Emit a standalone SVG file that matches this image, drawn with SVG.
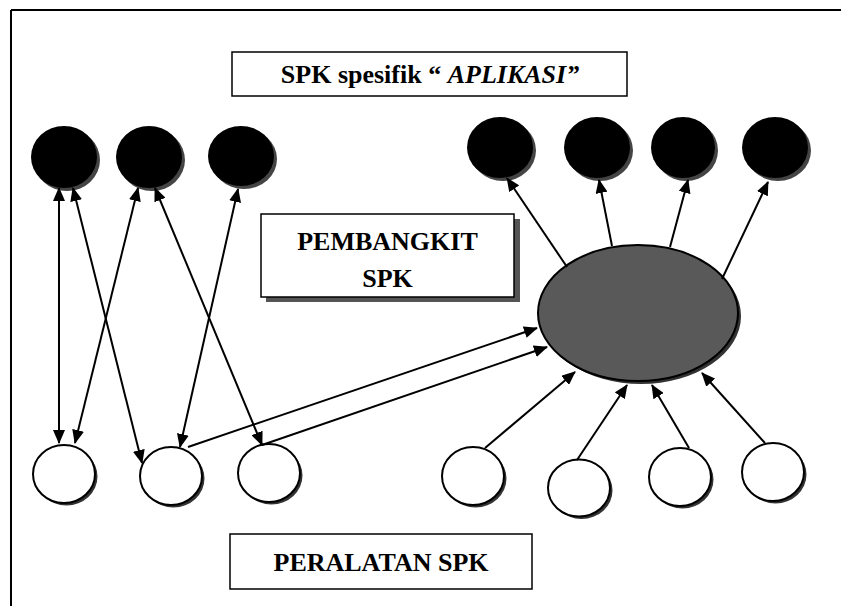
<svg xmlns="http://www.w3.org/2000/svg" width="841" height="606" viewBox="0 0 841 606">
<style>
.frame{stroke:#000;stroke-width:2;fill:none}
.box{fill:#fff;stroke:#000;stroke-width:1.5}
.shadow{fill:#555}
.dark{fill:#000}
.dshadow{fill:#444}
.white{fill:#fff;stroke:#000;stroke-width:2}
.wshadow{fill:#333}
.ell{fill:#595959;stroke:#000;stroke-width:2}
.conn line{stroke:#000;stroke-width:2}
.lbl{font-family:"Liberation Serif","Times New Roman",serif;font-weight:bold;font-size:26px;fill:#000}
</style>
<defs>
<marker id="ah" markerUnits="userSpaceOnUse" markerWidth="14" markerHeight="12" refX="13" refY="6" orient="auto-start-reverse" viewBox="0 0 14 12">
<path d="M0,0 L14,6 L0,12 z" fill="#000"/>
</marker>
</defs>
<rect width="841" height="606" fill="#fff"/>
<g id="frame">
<line class="frame" x1="11" y1="10" x2="841" y2="10"/>
<line class="frame" x1="11" y1="10" x2="11" y2="606"/>
</g>
<g id="title">
<rect class="box" x="232" y="52" width="395" height="44"/>
<text class="lbl" x="430" y="83" text-anchor="middle">SPK spesifik “ <tspan font-style="italic">APLIKASI”</tspan></text>
</g>
<g id="pembangkit">
<rect class="shadow" x="266" y="219" width="254" height="83"/>
<rect class="box" x="261" y="214" width="253" height="83"/>
<text class="lbl" x="387.5" y="250" text-anchor="middle">PEMBANGKIT</text>
<text class="lbl" x="387.5" y="287" text-anchor="middle">SPK</text>
</g>
<g id="peralatan">
<rect class="box" x="230" y="534" width="302" height="55"/>
<text class="lbl" x="381" y="571" text-anchor="middle">PERALATAN SPK</text>
</g>
<g id="tl1"><ellipse class="dshadow" cx="67" cy="160" rx="33" ry="31"/><ellipse class="dark" cx="64" cy="157" rx="33" ry="31"/></g>
<g id="tl2"><ellipse class="dshadow" cx="152" cy="160" rx="33" ry="31"/><ellipse class="dark" cx="149" cy="157" rx="33" ry="31"/></g>
<g id="tl3"><ellipse class="dshadow" cx="244" cy="159" rx="33" ry="30"/><ellipse class="dark" cx="241" cy="156" rx="33" ry="30"/></g>
<g id="tr1"><ellipse class="dshadow" cx="503" cy="150.5" rx="33" ry="30.5"/><ellipse class="dark" cx="500" cy="147.5" rx="33" ry="30.5"/></g>
<g id="tr2"><ellipse class="dshadow" cx="600" cy="150.5" rx="33" ry="30.5"/><ellipse class="dark" cx="597" cy="147.5" rx="33" ry="30.5"/></g>
<g id="tr3"><ellipse class="dshadow" cx="686" cy="150.5" rx="32" ry="30.5"/><ellipse class="dark" cx="683" cy="147.5" rx="32" ry="30.5"/></g>
<g id="tr4"><ellipse class="dshadow" cx="778" cy="150.5" rx="33" ry="30.5"/><ellipse class="dark" cx="775" cy="147.5" rx="33" ry="30.5"/></g>
<g id="generator"><ellipse class="wshadow" cx="641" cy="316" rx="100" ry="68"/><ellipse class="ell" cx="638" cy="313" rx="100" ry="68"/></g>
<g id="bl1"><ellipse class="wshadow" cx="66.5" cy="476.5" rx="31" ry="29"/><ellipse class="white" cx="64" cy="474" rx="31" ry="29"/></g>
<g id="bl2"><ellipse class="wshadow" cx="173.5" cy="478.5" rx="31" ry="29"/><ellipse class="white" cx="171" cy="476" rx="31" ry="29"/></g>
<g id="bl3"><ellipse class="wshadow" cx="271.5" cy="475.5" rx="31" ry="29"/><ellipse class="white" cx="269" cy="473" rx="31" ry="29"/></g>
<g id="br1"><ellipse class="wshadow" cx="475.5" cy="478.5" rx="31" ry="29"/><ellipse class="white" cx="473" cy="476" rx="31" ry="29"/></g>
<g id="br2"><ellipse class="wshadow" cx="581.5" cy="490.5" rx="31" ry="28.5"/><ellipse class="white" cx="579" cy="488" rx="31" ry="28.5"/></g>
<g id="br3"><ellipse class="wshadow" cx="682.5" cy="479.5" rx="31" ry="29"/><ellipse class="white" cx="680" cy="477" rx="31" ry="29"/></g>
<g id="br4"><ellipse class="wshadow" cx="775.5" cy="474.5" rx="31" ry="29"/><ellipse class="white" cx="773" cy="472" rx="31" ry="29"/></g>
<g id="connectors" class="conn">
<line x1="59" y1="188" x2="59" y2="443" marker-start="url(#ah)" marker-end="url(#ah)"/>
<line x1="73" y1="188" x2="142" y2="463" marker-start="url(#ah)" marker-end="url(#ah)"/>
<line x1="138" y1="188" x2="75" y2="443" marker-start="url(#ah)" marker-end="url(#ah)"/>
<line x1="155" y1="188" x2="262" y2="445" marker-start="url(#ah)" marker-end="url(#ah)"/>
<line x1="238" y1="189" x2="180" y2="447" marker-start="url(#ah)" marker-end="url(#ah)"/>
<line x1="188" y1="447" x2="537" y2="328" marker-end="url(#ah)"/>
<line x1="262" y1="445" x2="547" y2="347" marker-end="url(#ah)"/>
<line x1="567" y1="267" x2="507" y2="178" marker-end="url(#ah)"/>
<line x1="612" y1="246" x2="599" y2="180" marker-end="url(#ah)"/>
<line x1="670" y1="247" x2="688" y2="180" marker-end="url(#ah)"/>
<line x1="722" y1="279" x2="768" y2="182" marker-end="url(#ah)"/>
<line x1="485" y1="448" x2="575" y2="372" marker-end="url(#ah)"/>
<line x1="577" y1="460" x2="627" y2="385" marker-end="url(#ah)"/>
<line x1="689" y1="448" x2="652" y2="385" marker-end="url(#ah)"/>
<line x1="765" y1="443" x2="702" y2="373" marker-end="url(#ah)"/>
</g>
</svg>
